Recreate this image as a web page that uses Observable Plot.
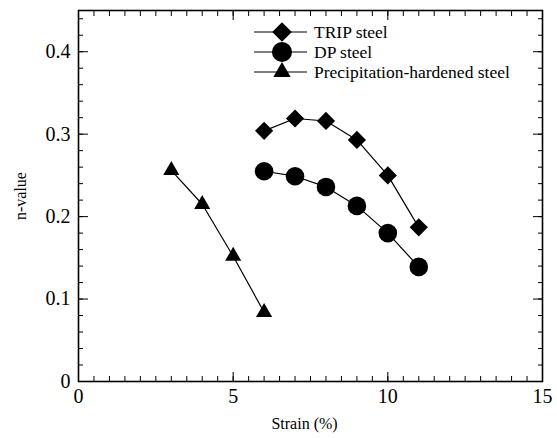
<!DOCTYPE html>
<html><head><meta charset="utf-8">
<script src="https://cdn.jsdelivr.net/npm/d3@7"></script>
<script src="https://cdn.jsdelivr.net/npm/@observablehq/plot@0.6"></script>
<style>
body{margin:0;background:#fff;}
#chart{position:relative;width:557px;height:438px;}
#chart svg{display:block;}
#legend{position:absolute;left:0;top:0;pointer-events:none;}
#chart text{font-family:"Liberation Serif","Times New Roman",serif;}
</style></head><body><div id="chart"></div>
<script>
// ---- data ----
const strainTRIP = [6, 7, 8, 9, 10, 11];
const nTRIP = [0.304, 0.319, 0.316, 0.293, 0.250, 0.187];
const strainDP = [6, 7, 8, 9, 10, 11];
const nDP = [0.255, 0.249, 0.236, 0.213, 0.180, 0.139];
const strainPH = [3, 4, 5, 6];
const nPH = [0.256, 0.215, 0.152, 0.084];
const seriesNames = ["TRIP steel", "DP steel", "Precipitation-hardened steel"];
const seriesSymbols = ["diamond2", "circle", "triangle"];
const xTickValues = [0, 5, 10, 15];
const xTickLabels = ["0", "5", "10", "15"];
const yTickValues = [0, 0.1, 0.2, 0.3, 0.4];
const yTickLabels = ["0", "0.1", "0.2", "0.3", "0.4"];
const xLabel = "Strain (%)";
const yLabel = "n-value";

const toRows = (xs, ys) => xs.map((x, i) => ({x, y: ys[i]}));
const trip = toRows(strainTRIP, nTRIP);
const dp = toRows(strainDP, nDP);
const ph = toRows(strainPH, nPH);
const xMinor = d3.range(0, 15.001, 0.5);
const yMinor = d3.range(0, 0.4501, 0.02).map(v => +v.toFixed(2));
const symR = {diamond2: 8.2, circle: 9.3, triangle: 6.0};
const blank = () => "";

const plot = Plot.plot({
  width: 557, height: 438,
  marginLeft: 78, marginRight: 15, marginTop: 10, marginBottom: 57,
  style: {fontFamily: "Liberation Serif", color: "black", background: "white"},
  x: {domain: [0, 15]},
  y: {domain: [0, 0.45]},
  marks: [
    // inward minor / major ticks on all four sides
    Plot.axisX(xMinor, {anchor: "bottom", tickSize: -5, tickFormat: blank, label: null}),
    Plot.axisX(xTickValues, {anchor: "bottom", tickSize: -9, tickFormat: blank, label: null}),
    Plot.axisX(xMinor, {anchor: "top", tickSize: -5, tickFormat: blank, label: null}),
    Plot.axisX(xTickValues, {anchor: "top", tickSize: -9, tickFormat: blank, label: null}),
    Plot.axisY(yMinor, {anchor: "left", tickSize: -5, tickFormat: blank, label: null}),
    Plot.axisY(yTickValues, {anchor: "left", tickSize: -10, tickFormat: blank, label: null}),
    Plot.axisY(yMinor, {anchor: "right", tickSize: -5, tickFormat: blank, label: null}),
    Plot.axisY(yTickValues, {anchor: "right", tickSize: -10, tickFormat: blank, label: null}),
    // tick labels
    Plot.axisX(xTickValues, {anchor: "bottom", tickSize: 0, tickPadding: 7, fontSize: 20,
      tickFormat: (d, i) => xTickLabels[i], label: null}),
    Plot.axisY(yTickValues, {anchor: "left", tickSize: 0, tickPadding: 8, fontSize: 20,
      tickFormat: (d, i) => yTickLabels[i], label: null}),
    // axis titles
    Plot.text([xLabel], {frameAnchor: "bottom", dx: -6, dy: 47, fontSize: 16, text: d => d}),
    Plot.text([yLabel], {frameAnchor: "left", dx: -58, dy: 24, rotate: -90, fontSize: 16, text: d => d}),
    Plot.frame({stroke: "black", strokeWidth: 1.6}),
    // data
    Plot.line(trip, {x: "x", y: "y", stroke: "black", strokeWidth: 1.2}),
    Plot.line(dp, {x: "x", y: "y", stroke: "black", strokeWidth: 1.2}),
    Plot.line(ph, {x: "x", y: "y", stroke: "black", strokeWidth: 1.2}),
    Plot.dot(trip, {x: "x", y: "y", symbol: seriesSymbols[0], r: symR.diamond2, fill: "black"}),
    Plot.dot(dp, {x: "x", y: "y", symbol: seriesSymbols[1], r: symR.circle, fill: "black"}),
    Plot.dot(ph, {x: "x", y: "y", symbol: seriesSymbols[2], r: symR.triangle, fill: "black"})
  ]
});
const chart = document.getElementById("chart");
chart.appendChild(plot);

// legend overlay inside the plot area
const d3sym = {diamond2: d3.symbolDiamond2, circle: d3.symbolCircle, triangle: d3.symbolTriangle};
const lg = d3.select(chart).append("svg").attr("id", "legend")
  .attr("width", 557).attr("height", 438);
seriesNames.forEach((name, i) => {
  const y = 32 + 20 * i;
  const g = lg.append("g");
  g.append("line").attr("x1", 254).attr("x2", 307).attr("y1", y).attr("y2", y)
    .attr("stroke", "black").attr("stroke-width", 1.2);
  const r = symR[seriesSymbols[i]] * 1.08;
  g.append("path").attr("transform", `translate(282,${y})`)
    .attr("d", d3.symbol(d3sym[seriesSymbols[i]], Math.PI * r * r)()).attr("fill", "black");
  g.append("text").attr("x", 314).attr("y", y + 6)
    .attr("font-size", 17.5).attr("fill", "black").text(name);
});
</script>
</body></html>
